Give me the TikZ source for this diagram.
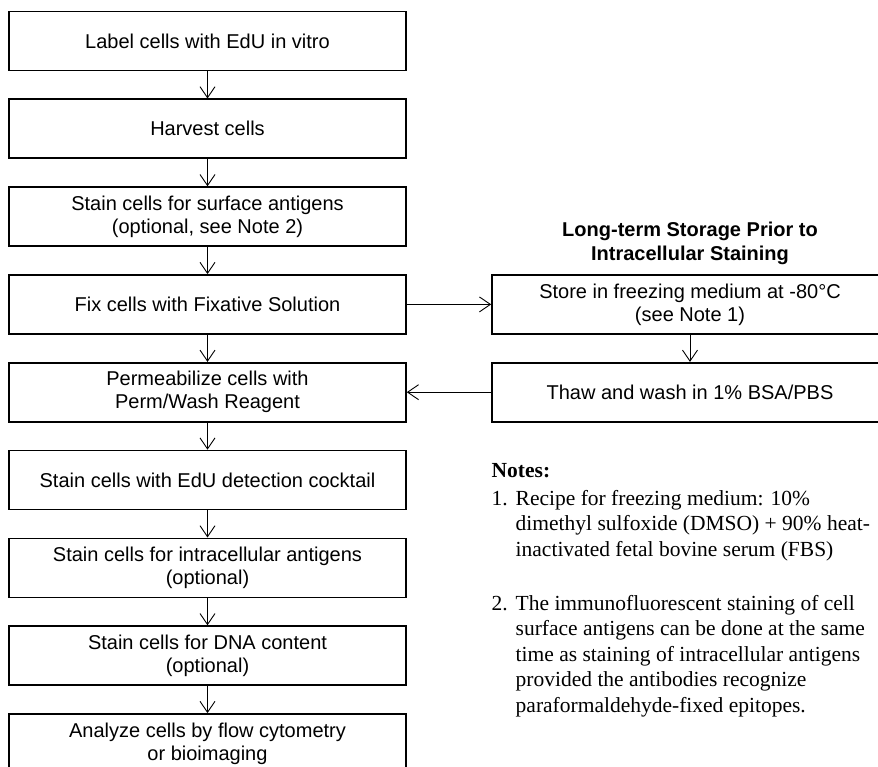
\documentclass[tikz,border=0pt]{standalone}
\usepackage{fontspec}
\setmainfont{Liberation Serif}
\setsansfont{Liberation Sans}
\usetikzlibrary{arrows.meta}
\begin{document}
\begin{tikzpicture}[x=1pt,y=-1pt,
  box/.style={draw, line width=1.6pt, minimum width=397pt, minimum height=59pt, inner sep=0pt, align=center, font=\sffamily\fontsize{20}{23}\selectfont},
  rbox/.style={box, minimum width=396pt},
  arr/.style={line width=0.9pt, -{Straight Barb[length=11pt,width=15pt,line width=0.9pt]}},
  note/.style={anchor=base west, inner sep=0pt, font=\fontsize{21.5}{25.5}\selectfont}]
\useasboundingbox (0,0) rectangle (878,767);
\clip (0,0) rectangle (878,767);
\node[box] (b1) at (207.5,41) {Label cells with EdU in vitro};
\node[box] (b2) at (207.5,128.8) {Harvest cells};
\node[box] (b3) at (207.5,216.6) {Stain cells for surface antigens\\(optional, see Note 2)};
\node[box] (b4) at (207.5,304.4) {Fix cells with Fixative Solution};
\node[box] (b5) at (207.5,392.2) {Permeabilize cells with\\Perm/Wash Reagent};
\node[box] (b6) at (207.5,480) {Stain cells with EdU detection cocktail};
\node[box] (b7) at (207.5,567.8) {Stain cells for intracellular antigens\\(optional)};
\node[box] (b8) at (207.5,655.6) {Stain cells for DNA content\\(optional)};
\node[box] (b9) at (207.5,743.4) {Analyze cells by flow cytometry\\or bioimaging};
\node[rbox] (r1) at (690,304.4) {Store in freezing medium at -80°C\\(see Note 1)};
\node[rbox] (r2) at (690,392.2) {Thaw and wash in 1\% BSA/PBS};
\node[align=center, inner sep=0pt, font=\sffamily\bfseries\fontsize{20}{24}\selectfont] (title) at (690,243) {Long-term Storage Prior to\\Intracellular Staining};
\foreach \a/\b in {b1/b2,b2/b3,b3/b4,b4/b5,b5/b6,b6/b7,b7/b8,b8/b9,r1/r2}
  \draw[arr] (\a) -- (\b);
\draw[arr] (b4) -- (r1);
\draw[arr] (r2) -- (b5);
\node[note, font=\bfseries\fontsize{21.5}{25.5}\selectfont] (notes) at (491.5,477) {Notes:};
\node[note] (n1) at (491.5,505) {1.};
\node[note] (n1a) at (515.5,505) {Recipe for freezing medium: 10\%};
\node[note] (n1b) at (515.5,530.5) {dimethyl sulfoxide (DMSO) + 90\% heat-};
\node[note] (n1c) at (515.5,556) {inactivated fetal bovine serum (FBS)};
\node[note] (n2) at (491.5,610) {2.};
\node[note] (n2a) at (515.5,610) {The immunofluorescent staining of cell};
\node[note] (n2b) at (515.5,635.5) {surface antigens can be done at the same};
\node[note] (n2c) at (515.5,661) {time as staining of intracellular antigens};
\node[note] (n2d) at (515.5,686.5) {provided the antibodies recognize};
\node[note] (n2e) at (515.5,712) {paraformaldehyde-fixed epitopes.};
\end{tikzpicture}
\end{document}
